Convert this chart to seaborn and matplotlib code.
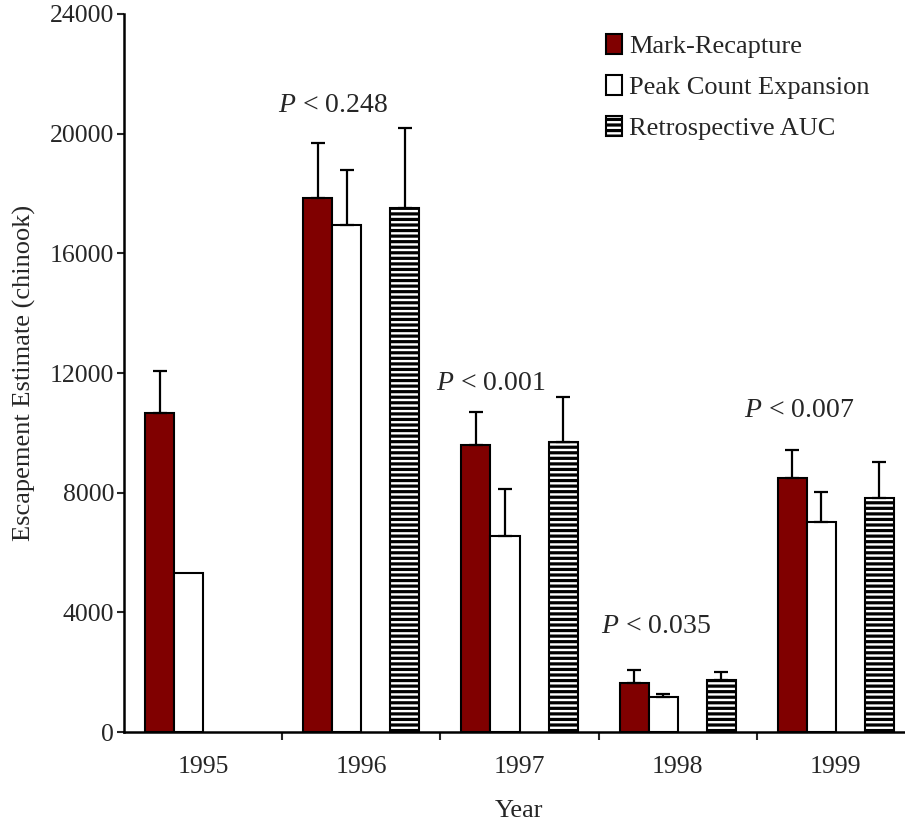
import numpy as np
import pandas as pd
import matplotlib
matplotlib.use("Agg")
import matplotlib.pyplot as plt
import seaborn as sns
from matplotlib.patches import Patch
from matplotlib.ticker import FixedLocator

sns.set_style("white")
plt.rcParams['font.family'] = ['Liberation Serif', 'DejaVu Serif']
plt.rcParams['mathtext.fontset'] = 'custom'
plt.rcParams['mathtext.rm'] = 'Liberation Serif'
plt.rcParams['mathtext.it'] = 'Liberation Serif:italic'
plt.rcParams['hatch.linewidth'] = 2.3
plt.rcParams['hatch.color'] = 'black'

# ---- data ----
years = ["1995", "1996", "1997", "1998", "1999"]
methods = ["Mark-Recapture", "Peak Count Expansion", "Retrospective AUC"]
mark_recapture = [10650, 17850, 9600, 1640, 8490]
mark_recapture_err = [1420, 1850, 1100, 430, 935]
peak_count = [5300, 16950, 6550, 1170, 7020]
peak_count_err = [np.nan, 1850, 1570, 100, 1000]
retro_auc = [np.nan, 17500, 9700, 1740, 7820]
retro_auc_err = [np.nan, 2700, 1500, 280, 1200]
p_labels = ["P < 0.248", "P < 0.001", "P < 0.035", "P < 0.007"]
p_years = ["1996", "1997", "1998", "1999"]
p_text_dx = [-0.18, -0.18, -0.14, -0.23]
p_text_y = [20950, 11660, 3510, 10730]

spacer = " "
hue_order = [methods[0], methods[1], spacer, methods[2]]
values = {methods[0]: mark_recapture, methods[1]: peak_count,
          spacer: [np.nan] * len(years), methods[2]: retro_auc}
errors = {methods[0]: mark_recapture_err, methods[1]: peak_count_err,
          methods[2]: retro_auc_err}

rows = []
for m in hue_order:
    for y, v in zip(years, values[m]):
        rows.append({"Year": y, "Method": m, "Value": v})
df = pd.DataFrame(rows)

colors = {methods[0]: "#800000", methods[1]: "white", spacer: "white", methods[2]: "white"}

fig = plt.figure(figsize=(9.05, 8.22), dpi=100)
ax = fig.add_axes([124 / 905, 1 - 732 / 822, (915 - 124) / 905, (732 - 14) / 822])

sns.barplot(data=df, x="Year", y="Value", hue="Method", hue_order=hue_order,
            order=years, palette=colors, width=0.734, gap=0, dodge=True,
            errorbar=None, edgecolor="black", linewidth=1.5, saturation=1,
            legend=False, ax=ax)

# hatch + error bars
containers = [c for c in ax.containers if len(c) > 0]
for m, cont in zip([methods[0], methods[1], methods[2]], containers):
    for p in cont:
        h = p.get_height()
        if not np.isfinite(h) or h == 0:
            continue
        cx = p.get_x() + p.get_width() / 2
        idx = int(round(cx))
        if m == methods[2]:
            p.set_hatch('---')
        e = errors[m][idx]
        if np.isfinite(e):
            ax.errorbar([cx], [h], yerr=[[0], [e]], fmt='none', ecolor='black',
                        elinewidth=1.6, capsize=5, capthick=1.6, zorder=3)

# P labels
for lab, yr, dx, ty in zip(p_labels, p_years, p_text_dx, p_text_y):
    xi = years.index(yr)
    txt = "$P$" + lab[1:]
    ax.text(xi + dx, ty, txt, ha="center", va="center", fontsize=20)

ax.set_xlim(-0.5, 4.5)
ax.set_ylim(0, 24000)
ax.set_yticks([0, 4000, 8000, 12000, 16000, 20000, 24000])
ax.tick_params(axis='y', labelsize=18.5, length=5, width=1.5, direction='out', left=True, pad=2)
ax.tick_params(axis='x', which='major', labelsize=18.5, length=0, pad=17)
ax.xaxis.set_minor_locator(FixedLocator([0.5, 1.5, 2.5, 3.5]))
ax.tick_params(axis='x', which='minor', length=6, width=1.5, direction='out', bottom=True)
ax.set_xlabel("Year", fontsize=19, labelpad=16)
ax.set_ylabel("Escapement Estimate (chinook)", fontsize=19, labelpad=10)
for s in ['top', 'right']:
    ax.spines[s].set_visible(False)
for s in ['left', 'bottom']:
    ax.spines[s].set_linewidth(1.8)
    ax.spines[s].set_color('black')

handles = [Patch(facecolor="#800000", edgecolor="black", linewidth=1.5),
           Patch(facecolor="white", edgecolor="black", linewidth=1.5),
           Patch(facecolor="white", edgecolor="black", linewidth=1.5, hatch='---')]
fig.legend(handles, methods, loc="upper left", bbox_to_anchor=(606 / 905, 1 - 34 / 822),
           frameon=False, fontsize=19, handlelength=0.62, handleheight=0.8,
           handletextpad=0.27, labelspacing=0.63, borderpad=0, borderaxespad=0)

fig.savefig("out.png", dpi=100)
